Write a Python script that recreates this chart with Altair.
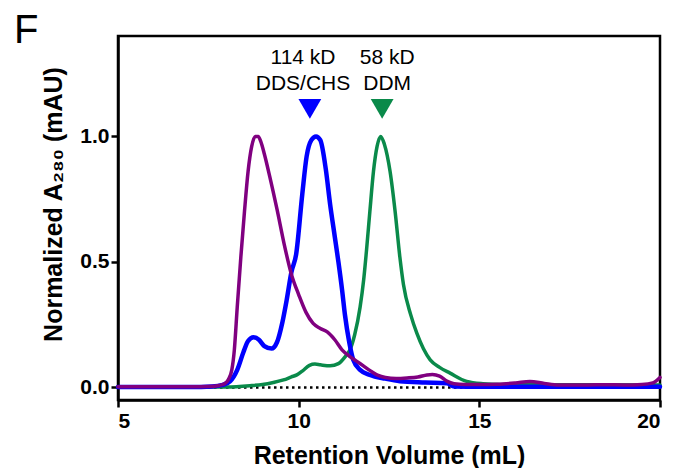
import altair as alt
import pandas as pd

# Purple trace
purple_x = [5.0, 6.0, 7.0, 7.5, 7.8, 7.95, 8.05, 8.15, 8.22, 8.3, 8.4, 8.5, 8.6, 8.7, 8.8, 8.88,
            8.95, 9.05, 9.2, 9.4, 9.6, 9.8, 10.0, 10.2, 10.4, 10.6, 10.8, 11.0, 11.2, 11.4, 11.6,
            11.8, 12.0, 12.2, 12.4, 12.7, 13.0, 13.3, 13.55, 13.7, 13.9, 14.1, 14.3, 14.6, 15.0,
            15.5, 16.0, 16.4, 16.8, 17.2, 18.0, 18.5, 19.0, 19.5, 19.8, 20.0]
purple_y = [0.003, 0.003, 0.003, 0.004, 0.008, 0.015, 0.03, 0.07, 0.15, 0.32, 0.52, 0.70, 0.86,
            0.96, 1.0, 1.0, 0.98, 0.93, 0.84, 0.71, 0.57, 0.45, 0.37, 0.30, 0.255, 0.235, 0.22,
            0.19, 0.15, 0.125, 0.105, 0.085, 0.065, 0.048, 0.04, 0.036, 0.038, 0.042, 0.05, 0.052,
            0.045, 0.025, 0.015, 0.012, 0.012, 0.013, 0.018, 0.024, 0.016, 0.01, 0.01, 0.011,
            0.01, 0.012, 0.018, 0.04]

# Blue trace
blue_x = [5.0, 7.0, 7.6, 7.9, 8.1, 8.3, 8.47, 8.6, 8.75, 8.9, 9.05, 9.25, 9.4, 9.55, 9.67, 9.8,
          9.93, 10.1, 10.22, 10.35, 10.48, 10.6, 10.75, 10.87, 11.0, 11.1, 11.2, 11.28, 11.4,
          11.51, 11.7, 11.97, 12.4, 12.8, 13.5, 14.1, 14.3, 15.0, 20.0]
blue_y = [0.002, 0.002, 0.004, 0.01, 0.024, 0.07, 0.14, 0.185, 0.2, 0.19, 0.165, 0.155, 0.18,
          0.26, 0.35, 0.46, 0.53, 0.77, 0.92, 0.985, 1.0, 0.985, 0.87, 0.73, 0.6, 0.5, 0.39,
          0.29, 0.18, 0.11, 0.07, 0.05, 0.035, 0.025, 0.02, 0.017, 0.004, 0.003, 0.003]

# Green trace
green_x = [5.0, 8.0, 8.65, 9.0, 9.3, 9.58, 9.8, 9.95, 10.1, 10.3, 10.45, 10.6, 10.87, 11.1, 11.3,
           11.42, 11.55, 11.7, 11.8, 11.88, 11.97, 12.07, 12.17, 12.27, 12.37, 12.53, 12.67,
           12.8, 12.9, 13.1, 13.27, 13.45, 13.64, 13.9, 14.19, 14.65, 15.1, 15.6, 16.4, 17.0, 20.0]
green_y = [0.002, 0.002, 0.007, 0.012, 0.02, 0.03, 0.042, 0.05, 0.065, 0.088, 0.093, 0.09, 0.086,
           0.095, 0.125, 0.15, 0.21, 0.32, 0.43, 0.55, 0.7, 0.86, 0.96, 1.0, 0.97, 0.86, 0.7,
           0.52, 0.41, 0.29, 0.216, 0.155, 0.11, 0.08, 0.057, 0.024, 0.015, 0.012, 0.015, 0.011,
           0.01]

# Markers and labels
marker_x = [10.31, 12.31]
marker_y = [1.11, 1.11]
marker_color = ["#0000FF", "#0A8A4A"]
label_x = [10.12, 10.12, 12.45, 12.45]
label_y = [1.287, 1.183, 1.287, 1.183]
label_text = ["114 kD", "DDS/CHS", "58 kD", "DDM"]

x_ticks = [5, 10, 15, 20]
y_ticks = [0.0, 0.5, 1.0]

FONT = "Liberation Sans"
xs = alt.Scale(domain=[5, 20], nice=False, zero=False)
ys = alt.Scale(domain=[-0.05, 1.4], nice=False, zero=False)

xenc = alt.X("x:Q", scale=xs,
             axis=alt.Axis(values=x_ticks, title="Retention Volume (mL)", format="d"))
yenc = alt.Y("y:Q", scale=ys,
             axis=alt.Axis(values=y_ticks, title="Normalized A₂₈₀ (mAU)", format=".1f",
                           titleY=168))

base_df = pd.DataFrame({"x": [5.0, 20.0], "y": [0.0, 0.0]})
dotted = alt.Chart(base_df).mark_line(color="black", strokeWidth=2.5, strokeDash=[2.5, 3.5]).encode(
    x=xenc, y=yenc)


def trace(xv, yv, color, width):
    df = pd.DataFrame({"x": xv, "y": yv})
    return alt.Chart(df).mark_line(color=color, strokeWidth=width, interpolate="monotone",
                                   strokeJoin="round", strokeCap="round").encode(x=xenc, y=yenc)


green = trace(green_x, green_y, "#0A8A4A", 3.5)
blue = trace(blue_x, blue_y, "#0000FF", 4.5)
purple = trace(purple_x, purple_y, "#800080", 3.5)

mk_df = pd.DataFrame({"x": marker_x, "y": marker_y, "c": marker_color})
markers = alt.Chart(mk_df).mark_point(shape="triangle-down", filled=True, size=520, opacity=1).encode(
    x=xenc, y=yenc, color=alt.Color("c:N", scale=None))

lb_df = pd.DataFrame({"x": label_x, "y": label_y, "t": label_text})
labels = alt.Chart(lb_df).mark_text(font=FONT, fontSize=21, align="center", baseline="alphabetic",
                                    color="black").encode(x=xenc, y=yenc, text="t:N")

panel = alt.Chart(pd.DataFrame({"t": ["F"]})).mark_text(
    font=FONT, fontSize=40, align="left", baseline="alphabetic", color="black").encode(
    x=alt.value(-104), y=alt.value(7), text="t:N")

chart = alt.layer(dotted, green, blue, purple, markers, labels, panel).properties(
    width=542, height=364,
    padding={"left": 110, "top": 28, "right": 9, "bottom": 68},
    autosize=alt.AutoSizeParams(type="none"),
).configure_view(stroke="black", strokeWidth=2.5).configure_axis(
    grid=False, domainColor="black", domainWidth=2.5, tickColor="black", tickWidth=2.5,
    tickSize=7, labelFont=FONT, labelFontSize=21, labelFontWeight="bold", labelColor="black",
    titleFont=FONT, titleFontSize=25, titleFontWeight="bold", titleColor="black",
).configure_axisX(labelPadding=3, titlePadding=12).configure_axisY(labelPadding=2, titlePadding=13)

chart.save("out.html", embed_options={"renderer": "svg", "actions": False})
